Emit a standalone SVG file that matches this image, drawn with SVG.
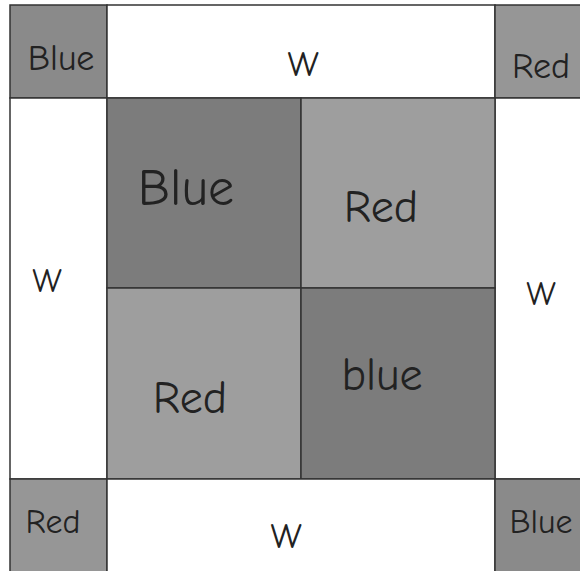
<svg xmlns="http://www.w3.org/2000/svg" width="580" height="571" viewBox="0 0 580 571">
<style>
.c{stroke:#333;stroke-width:1.5}
.w{fill:#fff}
.cb{fill:#8a8a8a}
.cr{fill:#969696}
.db{fill:#7c7c7c}
.lr{fill:#9e9e9e}
text{font-family:"Comic Neue","Liberation Sans",sans-serif;fill:#222;text-anchor:middle}
</style>
<rect width="580" height="571" fill="#fff"/>
<g id="tl"><rect class="c cb" x="10" y="5" width="97" height="93"/><text x="61" y="70" font-size="36">Blue</text></g>
<g id="top"><rect class="c w" x="107" y="5" width="388" height="93"/><text x="303" y="76" font-size="36">W</text></g>
<g id="tr"><rect class="c cr" x="495" y="5" width="90" height="93"/><text x="541" y="78" font-size="36">Red</text></g>
<g id="left"><rect class="c w" x="10" y="98" width="97" height="381"/><text x="47" y="292" font-size="34">W</text></g>
<g id="right"><rect class="c w" x="495" y="98" width="90" height="381"/><text x="541" y="305" font-size="34">W</text></g>
<g id="c1"><rect class="c db" x="107" y="98" width="194" height="190"/><text x="186" y="205" font-size="52">Blue</text></g>
<g id="c2"><rect class="c lr" x="301" y="98" width="194" height="190"/><text x="381" y="222" font-size="46">Red</text></g>
<g id="c3"><rect class="c lr" x="107" y="288" width="194" height="191"/><text x="190" y="413" font-size="46">Red</text></g>
<g id="c4"><rect class="c db" x="301" y="288" width="194" height="191"/><text x="382" y="390" font-size="46">blue</text></g>
<g id="bl"><rect class="c cr" x="10" y="479" width="97" height="100"/><text x="53" y="533" font-size="34">Red</text></g>
<g id="bottom"><rect class="c w" x="107" y="479" width="388" height="100"/><text x="286" y="548" font-size="36">W</text></g>
<g id="br"><rect class="c cb" x="495" y="479" width="90" height="100"/><text x="541" y="533" font-size="34">Blue</text></g>
</svg>
